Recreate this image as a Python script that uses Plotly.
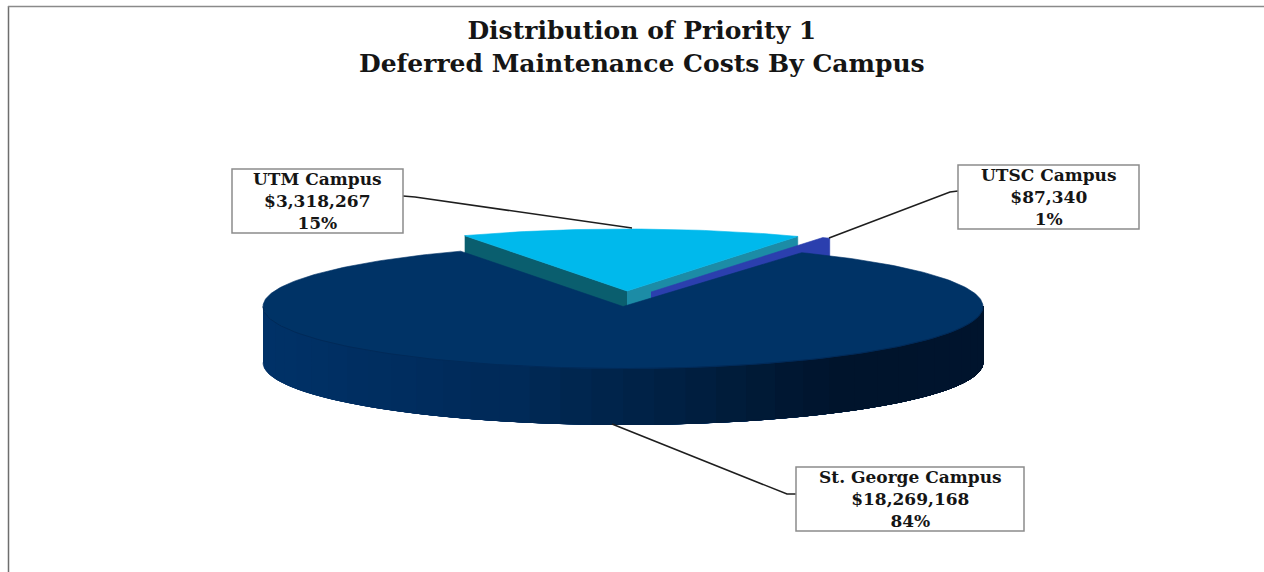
import numpy as np
import plotly.graph_objects as go

# ---- data ----
campuses = ["UTM Campus", "UTSC Campus", "St. George Campus"]
costs = [3318267, 87340, 18269168]
cost_labels = ["$3,318,267", "$87,340", "$18,269,168"]
pct_labels = ["15%", "1%", "84%"]
title_lines = ["Distribution of Priority 1", "Deferred Maintenance Costs By Campus"]

# ---- pie geometry (pixel-like axis units) ----
W, H = 1264, 572
A, B = 360, 62
START = 116.8
DEPTH_MAIN = 56
DEPTH_EXPL = 20
apexes = [(627, 291), (651, 292), (623, 306.5)]
top_cols = ["#00B9EC", "#2B3FAE", "#003366"]
wall_left = ["#0A5E6E", "#2B3FAE"]
wall_right = ["#1C8CA6", "#2B3FAE"]
box_rects = [(232, 169, 403, 233), (958, 165, 1139, 229), (796, 467, 1024, 531)]
leaders = [
    ([403, 415, 632], [196, 197, 228]),
    ([958, 950, 829], [191, 192, 238]),
    ([612, 787, 796], [424, 494, 494]),
]

shares = np.array(costs, dtype=float) / sum(costs) * 360
edges = START - np.concatenate([[0], np.cumsum(shares)])


def rim(apex, t):
    t = np.radians(t)
    return apex[0] + A * np.cos(t), apex[1] - B * np.sin(t)


def poly(fig, x, y, color, line=None):
    fig.add_trace(go.Scatter(
        x=list(x), y=list(y), mode="lines", fill="toself", fillcolor=color,
        line=dict(color=line or color, width=0.6), hoverinfo="skip", showlegend=False))


fig = go.Figure()

# exploded UTM slice walls
ap = apexes[0]
t0, t1 = edges[0], edges[1]
p0, p1 = rim(ap, t0), rim(ap, t1)
poly(fig, [p0[0], ap[0], ap[0], p0[0]], [p0[1], ap[1], ap[1] + DEPTH_EXPL, p0[1] + DEPTH_EXPL], wall_left[0])
poly(fig, [ap[0], p1[0], p1[0], ap[0]], [ap[1], p1[1], p1[1] + DEPTH_EXPL, ap[1] + DEPTH_EXPL], wall_right[0])

# exploded UTSC slice
ap = apexes[1]
t0, t1 = edges[1], edges[2]
ts = np.linspace(t0, t1, 8)
rx, ry = rim(ap, ts)
poly(fig, [ap[0], *rx, rx[-1], ap[0]], [ap[1], *ry, ry[-1] + DEPTH_EXPL, ap[1] + DEPTH_EXPL], top_cols[1])

# UTM top face
ap = apexes[0]
ts = np.linspace(edges[0], edges[1], 60)
rx, ry = rim(ap, ts)
poly(fig, [ap[0], *rx, ap[0]], [ap[1], *ry, ap[1]], top_cols[0])

# main slice: front wall, shaded in strips; each strip runs to the right end so no seams show
ap = apexes[2]
stops = [0, 0.35, 0.62, 0.8, 1]
greens = [50, 42, 30, 20, 20]
blues = [104, 88, 62, 44, 46]
strips = np.linspace(180, 360, 37)
for a in strips[:-1]:
    s = np.linspace(a, 360, 80)
    rx, ry = rim(ap, s)
    f = (1 + np.cos(np.radians(a + 2.5))) / 2
    c = "rgb(%d,%d,%d)" % (0, np.interp(f, stops, greens), np.interp(f, stops, blues))
    poly(fig, [*rx, *rx[::-1]], [*ry, *(ry[::-1] + DEPTH_MAIN)], c)

# main slice: top face
ts = np.linspace(edges[2], edges[3], 300)
rx, ry = rim(ap, ts)
poly(fig, [ap[0], *rx, ap[0]], [ap[1], *ry, ap[1]], top_cols[2])
front = np.linspace(180, 360, 120)
rx, ry = rim(ap, front)
fig.add_trace(go.Scatter(x=rx, y=ry, mode="lines", line=dict(color="#002A58", width=1),
                         hoverinfo="skip", showlegend=False))

# leader lines
for lx, ly in leaders:
    fig.add_trace(go.Scatter(x=lx, y=ly, mode="lines", line=dict(color="#1E1E1E", width=1.6),
                             hoverinfo="skip", showlegend=False))

# label boxes
shapes = [
    dict(type="line", x0=8.5, x1=8.5, y0=6, y1=H, line=dict(color="#6E6E6E", width=1.5)),
    dict(type="line", x0=8, x1=W, y0=6.5, y1=6.5, line=dict(color="#8A8A8A", width=1.5)),
]
annotations = []
for name, cost, pct, (x0, y0, x1, y1) in zip(campuses, cost_labels, pct_labels, box_rects):
    shapes.append(dict(type="rect", x0=x0, x1=x1, y0=y0, y1=y1, fillcolor="white",
                       line=dict(color="#8C8C8C", width=1.5), layer="above"))
    annotations.append(dict(
        x=(x0 + x1) / 2, y=(y0 + y1) / 2, xref="x", yref="y", showarrow=False,
        text="<b>%s<br>%s<br>%s</b>" % (name, cost, pct),
        font=dict(family="DejaVu Serif", size=17, color="#151515"), align="center"))

annotations.append(dict(
    x=642, y=46.5, xref="x", yref="y", showarrow=False,
    text="<b>%s<br>%s</b>" % tuple(title_lines),
    font=dict(family="DejaVu Serif", size=25, color="#151515"), align="center"))

fig.update_layout(
    width=W, height=H, margin=dict(l=0, r=0, t=0, b=0),
    paper_bgcolor="white", plot_bgcolor="white", showlegend=False,
    xaxis=dict(range=[0, W], visible=False, fixedrange=True),
    yaxis=dict(range=[H, 0], visible=False, fixedrange=True),
    shapes=shapes, annotations=annotations,
)
fig.write_html("out.html", config={"displayModeBar": False},
               post_script="document.body.style.margin='0';document.body.style.overflow='hidden';")
